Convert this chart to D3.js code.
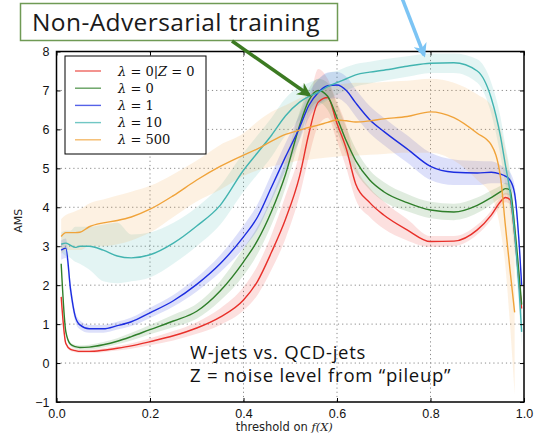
<!DOCTYPE html>
<html>
<head>
<meta charset="utf-8">
<script src="https://cdn.jsdelivr.net/npm/d3@7"></script>
<style>
  body { margin: 0; background: #fff; }
  svg { display: block; font-family: 'DejaVu Sans', sans-serif; }
  .grid line { stroke: #8a8a8a; stroke-dasharray: 1.2 3; stroke-width: 1; }
  .axis path, .axis line { stroke: #000; }
  .axis text { font-size: 12.5px; fill: #111; }
</style>
</head>
<body>
<div id="chart"></div>
<script>
// thresholds on f(X)
const thresholds = [0.01, 0.02, 0.03, 0.04, 0.05, 0.07, 0.10, 0.13, 0.16, 0.20, 0.25, 0.30, 0.35,
  0.40, 0.43, 0.46, 0.49, 0.52, 0.54, 0.56, 0.58, 0.60, 0.62, 0.64, 0.67, 0.70, 0.75, 0.80,
  0.85, 0.90, 0.93, 0.95, 0.96, 0.97, 0.98, 0.99, 0.995];

// lambda = 0 | Z = 0
const amsRed = [1.7, 0.5, 0.35, 0.32, 0.30, 0.30, 0.33, 0.38, 0.44, 0.55, 0.70, 0.90, 1.18,
  1.62, 2.1, 2.85, 3.7, 4.8, 5.9, 6.7, 6.82, 6.15, 5.5, 4.6, 4.12, 3.8, 3.42, 3.12,
  3.13, 3.42, 3.8, 4.15, 4.25, 4.2, 3.3, 2.0, 1.4];
const loRed = [1.6, 0.45, 0.31, 0.28, 0.26, 0.26, 0.28, 0.32, 0.37, 0.46, 0.58, 0.75, 0.98,
  1.35, 1.75, 2.4, 3.2, 4.3, 5.3, 6.1, 6.3, 5.7, 5.0, 4.2, 3.75, 3.45, 3.15, 2.98,
  3.0, 3.3, 3.68, 4.03, 4.13, 4.08, 3.1, 1.8, 1.2];
const hiRed = [1.8, 0.55, 0.39, 0.36, 0.34, 0.34, 0.38, 0.44, 0.51, 0.64, 0.82, 1.05, 1.4,
  1.95, 2.5, 3.3, 4.3, 5.4, 6.6, 7.55, 7.3, 6.7, 6.1, 5.1, 4.5, 4.15, 3.7, 3.26,
  3.26, 3.55, 3.92, 4.27, 4.37, 4.32, 3.5, 2.2, 1.6];

// lambda = 0
const amsGreen = [2.55, 0.8, 0.48, 0.42, 0.40, 0.41, 0.47, 0.56, 0.68, 0.86, 1.08, 1.33, 1.85,
  2.6, 3.15, 3.9, 4.85, 6.1, 6.75, 7.0, 6.85, 6.3, 5.7, 5.2, 4.7, 4.4, 4.12, 3.93,
  3.88, 4.05, 4.25, 4.4, 4.48, 4.45, 3.5, 2.2, 1.5];
const loGreen = [2.45, 0.74, 0.43, 0.37, 0.35, 0.35, 0.4, 0.48, 0.58, 0.74, 0.92, 1.14, 1.6,
  2.25, 2.8, 3.55, 4.5, 5.75, 6.45, 6.7, 6.5, 5.95, 5.35, 4.9, 4.45, 4.15, 3.9, 3.72,
  3.67, 3.85, 4.07, 4.25, 4.33, 4.3, 3.3, 2.0, 1.3];
const hiGreen = [2.65, 0.86, 0.53, 0.47, 0.45, 0.47, 0.54, 0.64, 0.78, 0.98, 1.24, 1.52, 2.1,
  2.95, 3.5, 4.25, 5.2, 6.45, 7.05, 7.3, 7.2, 6.65, 6.05, 5.5, 4.95, 4.65, 4.34, 4.14,
  4.09, 4.25, 4.43, 4.55, 4.63, 4.6, 3.7, 2.4, 1.7];

// lambda = 1
const amsBlue = [2.9, 2.95, 1.9, 1.2, 0.98, 0.88, 0.88, 0.96, 1.06, 1.29, 1.6, 2.02, 2.55,
  3.24, 3.75, 4.52, 5.3, 6.05, 6.62, 6.95, 7.12, 7.14, 7.0, 6.68, 6.25, 5.95, 5.5, 5.05,
  4.9, 4.88, 4.9, 4.85, 4.8, 4.7, 4.35, 3.0, 2.0];
const loBlue = [2.65, 2.7, 1.7, 1.07, 0.87, 0.78, 0.78, 0.86, 0.95, 1.16, 1.45, 1.84, 2.33,
  2.95, 3.42, 4.18, 4.95, 5.72, 6.3, 6.62, 6.78, 6.8, 6.65, 6.33, 5.9, 5.6, 5.15, 4.7,
  4.57, 4.57, 4.62, 4.62, 4.6, 4.5, 4.15, 2.8, 1.8];
const hiBlue = [3.15, 3.2, 2.1, 1.33, 1.09, 0.98, 0.98, 1.06, 1.17, 1.42, 1.75, 2.2, 2.77,
  3.53, 4.08, 4.86, 5.65, 6.38, 6.94, 7.28, 7.46, 7.48, 7.35, 7.03, 6.6, 6.3, 5.85, 5.4,
  5.23, 5.19, 5.18, 5.08, 5.0, 4.9, 4.55, 3.2, 2.2];

// lambda = 10
const amsCyan = [3.05, 3.08, 3.02, 2.97, 3.0, 3.0, 2.9, 2.75, 2.7, 2.78, 3.08, 3.52, 4.05,
  4.95, 5.4, 5.85, 6.35, 6.7, 6.85, 6.95, 7.1, 7.2, 7.3, 7.4, 7.47, 7.52, 7.62, 7.7,
  7.71, 7.5, 6.8, 5.8, 5.1, 4.4, 3.3, 1.8, 0.8];
const loCyan = [2.85, 2.75, 2.7, 2.6, 2.55, 2.4, 2.1, 2.05, 2.1, 2.2, 2.55, 3.0, 3.55,
  4.4, 4.85, 5.3, 5.85, 6.25, 6.45, 6.6, 6.75, 6.9, 7.0, 7.1, 7.18, 7.25, 7.35, 7.45,
  7.45, 7.2, 6.4, 5.3, 4.6, 3.9, 2.8, 1.3, 0.4];
const hiCyan = [3.35, 3.4, 3.4, 3.5, 3.5, 3.5, 3.55, 3.6, 3.3, 3.35, 3.6, 4.0, 4.55,
  5.4, 5.85, 6.3, 6.8, 7.1, 7.2, 7.3, 7.45, 7.5, 7.6, 7.68, 7.74, 7.8, 7.88, 7.95,
  7.95, 7.8, 7.2, 6.3, 5.6, 4.95, 3.85, 2.4, 1.3];

// lambda = 500 (curve stops at 0.98)
const amsOrange = [3.25, 3.35, 3.35, 3.35, 3.36, 3.5, 3.6, 3.66, 3.75, 3.95, 4.3, 4.7, 5.05,
  5.34, 5.5, 5.7, 5.87, 5.98, 6.05, 6.11, 6.18, 6.24, 6.22, 6.19, 6.22, 6.27, 6.33, 6.45,
  6.3, 5.9, 5.6, 4.75, 3.55, 2.4, 1.3, null, null];
const loOrange = [2.8, 2.9, 2.9, 2.9, 2.9, 3.0, 3.0, 3.05, 3.15, 3.35, 3.75, 4.15, 4.45,
  4.8, 4.95, 5.05, 5.12, 5.2, 5.22, 5.25, 5.28, 5.3, 5.32, 5.33, 5.35, 5.37, 5.4, 5.4,
  5.2, 4.7, 4.3, 3.4, 2.5, 1.0, -0.8, null, null];
const hiOrange = [3.7, 3.8, 3.85, 3.9, 3.95, 4.1, 4.2, 4.3, 4.4, 4.55, 4.85, 5.2, 5.6,
  5.9, 6.2, 6.45, 6.62, 6.8, 6.9, 7.0, 7.08, 7.15, 7.18, 7.2, 7.2, 7.22, 7.25, 7.3,
  7.2, 6.9, 6.6, 6.0, 5.5, 4.8, 3.4, null, null];

const seriesNames = ['λ = 0|Z = 0', 'λ = 0', 'λ = 1', 'λ = 10', 'λ = 500'];
const seriesColors = ['#e8302a', '#2f7f2a', '#1c2de0', '#42b4b0', '#f0a33a'];
const xTicks = [0.0, 0.2, 0.4, 0.6, 0.8, 1.0];
const yTicks = [-1, 0, 1, 2, 3, 4, 5, 6, 7, 8];

const series = [
  { mean: amsRed, lo: loRed, hi: hiRed },
  { mean: amsGreen, lo: loGreen, hi: hiGreen },
  { mean: amsBlue, lo: loBlue, hi: hiBlue },
  { mean: amsCyan, lo: loCyan, hi: hiCyan },
  { mean: amsOrange, lo: loOrange, hi: hiOrange },
];

const canvasWidth = 539;
const canvasHeight = 433;
const margins = { top: 51.5, right: 15, bottom: 31, left: 56.5 };
const width = canvasWidth - margins.left - margins.right;
const height = canvasHeight - margins.top - margins.bottom;

const svg = d3.select('#chart')
  .append('svg')
  .attr('width', canvasWidth)
  .attr('height', canvasHeight);

const scaleX = d3.scaleLinear().domain([0, 1]).range([0, width]);
const scaleY = d3.scaleLinear().domain([-1, 8]).range([height, 0]);

const chart = svg.append('g')
  .attr('transform', `translate(${margins.left}, ${margins.top})`);

// dotted grid
const grid = chart.append('g').attr('class', 'grid');
grid.selectAll('.gx')
  .data(xTicks.slice(1, -1))
  .enter().append('line')
    .attr('x1', d => scaleX(d)).attr('x2', d => scaleX(d))
    .attr('y1', 0).attr('y2', height);
grid.selectAll('.gy')
  .data(yTicks.slice(1, -1))
  .enter().append('line')
    .attr('x1', 0).attr('x2', width)
    .attr('y1', d => scaleY(d)).attr('y2', d => scaleY(d));

// bands then lines
const area = d3.area()
  .defined(d => d.lo !== null)
  .x(d => scaleX(d.x))
  .y0(d => scaleY(d.lo))
  .y1(d => scaleY(d.hi))
  .curve(d3.curveMonotoneX);

const line = d3.line()
  .defined(d => d.y !== null)
  .x(d => scaleX(d.x))
  .y(d => scaleY(d.y))
  .curve(d3.curveMonotoneX);

const clip = svg.append('defs').append('clipPath').attr('id', 'plot-clip');
clip.append('rect').attr('width', width).attr('height', height);

const plot = chart.append('g').attr('clip-path', 'url(#plot-clip)');

series.forEach((s, k) => {
  const pts = thresholds.map((x, i) => ({ x, lo: s.lo[i], hi: s.hi[i] }));
  plot.append('path')
    .datum(pts)
    .attr('d', area)
    .attr('fill', seriesColors[k])
    .attr('fill-opacity', 0.15);
});

series.forEach((s, k) => {
  const pts = thresholds.map((x, i) => ({ x, y: s.mean[i] }));
  plot.append('path')
    .datum(pts)
    .attr('d', line)
    .attr('fill', 'none')
    .attr('stroke', seriesColors[k])
    .attr('stroke-width', 1.4);
});

// axes with inward ticks on all four sides
const fmtX = d3.format('.1f');
chart.append('g')
  .attr('class', 'axis')
  .attr('transform', `translate(0, ${height})`)
  .call(d3.axisBottom(scaleX).tickValues(xTicks).tickFormat(fmtX).tickSizeInner(-4).tickSizeOuter(0).tickPadding(7))
  .call(g => g.select('.domain').remove());
chart.append('g')
  .attr('class', 'axis')
  .call(d3.axisTop(scaleX).tickValues(xTicks).tickFormat('').tickSizeInner(-4).tickSizeOuter(0))
  .call(g => g.select('.domain').remove());
chart.append('g')
  .attr('class', 'axis')
  .call(d3.axisLeft(scaleY).tickValues(yTicks).tickFormat(d => d < 0 ? '\u22121' : d).tickSizeInner(-4).tickSizeOuter(0).tickPadding(7))
  .call(g => g.select('.domain').remove());
chart.append('g')
  .attr('class', 'axis')
  .attr('transform', `translate(${width}, 0)`)
  .call(d3.axisRight(scaleY).tickValues(yTicks).tickFormat('').tickSizeInner(-4).tickSizeOuter(0))
  .call(g => g.select('.domain').remove());

chart.append('rect')
  .attr('width', width)
  .attr('height', height)
  .attr('fill', 'none')
  .attr('stroke', '#000')
  .attr('stroke-width', 1.5);

// axis labels
svg.append('text')
  .attr('transform', `translate(22, ${margins.top + height / 2 - 6}) rotate(-90)`)
  .attr('text-anchor', 'middle')
  .attr('font-size', 11)
  .attr('fill', '#222')
  .text('AMS');

const xLabel = svg.append('text')
  .attr('x', margins.left + width / 2 - 6)
  .attr('y', 431)
  .attr('text-anchor', 'middle')
  .attr('font-size', 11.5)
  .attr('fill', '#222');
xLabel.append('tspan').text('threshold on ');
xLabel.append('tspan')
  .attr('font-family', 'DejaVu Serif, serif')
  .attr('font-style', 'italic')
  .text('f(X)');

// legend
const legend = chart.append('g')
  .attr('transform', `translate(${65 - margins.left}, ${56 - margins.top})`);
legend.append('rect')
  .attr('width', 141)
  .attr('height', 98)
  .attr('fill', '#fff')
  .attr('stroke', '#000')
  .attr('stroke-width', 1);
seriesNames.forEach((name, k) => {
  const row = legend.append('g').attr('transform', `translate(0, ${15 + k * 17.2})`);
  row.append('line')
    .attr('x1', 10).attr('x2', 36)
    .attr('stroke', seriesColors[k])
    .attr('stroke-opacity', 0.75)
    .attr('stroke-width', 1.4);
  const t = row.append('text')
    .attr('x', 53)
    .attr('y', 4.5)
    .attr('font-family', 'DejaVu Serif, serif')
    .attr('font-size', 13)
    .attr('fill', '#111');
  name.split(/([λZ])/).filter(p => p.length).forEach(p => {
    t.append('tspan')
      .attr('font-style', /[λZ]/.test(p) ? 'italic' : 'normal')
      .text(p);
  });
});

// in-plot notes
const notes = ['W-jets vs. QCD-jets', 'Z = noise level from \u201cpileup\u201d'];
svg.selectAll('.note')
  .data(notes)
  .enter().append('text')
    .attr('class', 'note')
    .attr('x', 190)
    .attr('y', (d, i) => 359 + i * 23)
    .attr('font-family', 'Open Sans, sans-serif')
    .attr('font-size', 18.5)
    .attr('letter-spacing', 0.75)
    .attr('fill', '#111')
    .text(d => d);

// callout box and arrows
svg.append('rect')
  .attr('x', 20.5).attr('y', 3.5)
  .attr('width', 317).attr('height', 37)
  .attr('fill', '#fff')
  .attr('stroke', '#6f9a55')
  .attr('stroke-width', 1.5);
svg.append('text')
  .attr('x', 32).attr('y', 31)
  .attr('font-family', 'Open Sans, sans-serif')
  .attr('font-size', 24.5)
  .attr('letter-spacing', 0.4)
  .attr('fill', '#1a1a1a')
  .text('Non-Adversarial training');

const defs = svg.select('defs');
[['arrow-green', '#3c7a22'], ['arrow-blue', '#7cc4f4']].forEach(([id, c]) => {
  defs.append('marker')
    .attr('id', id)
    .attr('viewBox', '0 0 10 10')
    .attr('refX', 8).attr('refY', 5)
    .attr('markerWidth', 4).attr('markerHeight', 4)
    .attr('markerUnits', 'strokeWidth')
    .attr('orient', 'auto')
    .append('path')
      .attr('d', 'M0,0 L10,5 L0,10 L3,5 Z')
      .attr('fill', c);
});
svg.append('line')
  .attr('x1', 232).attr('y1', 41)
  .attr('x2', 309).attr('y2', 95)
  .attr('stroke', '#3c7a22')
  .attr('stroke-width', 3.5)
  .attr('marker-end', 'url(#arrow-green)');
svg.append('line')
  .attr('x1', 402).attr('y1', -2)
  .attr('x2', 424).attr('y2', 55)
  .attr('stroke', '#7cc4f4')
  .attr('stroke-width', 3.5)
  .attr('marker-end', 'url(#arrow-blue)');
</script>
</body>
</html>
